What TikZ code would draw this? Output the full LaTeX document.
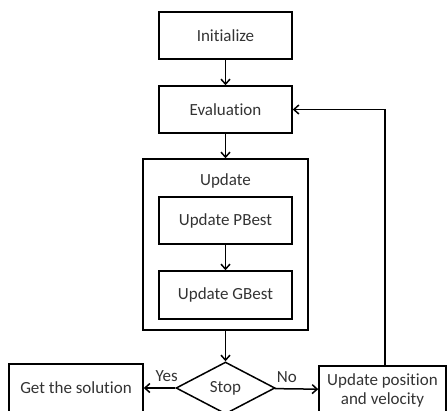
\documentclass[tikz,border=0pt]{standalone}
\usepackage{fontspec}
\setmainfont{Carlito}[Ligatures={NoCommon}]
\usepackage{tikz}
\usetikzlibrary{arrows.meta,shapes.geometric}

\begin{document}
\begin{tikzpicture}[x=1pt, y=-1pt, line width=1.5pt,
  every node/.style={font=\fontsize{17}{20}\selectfont, text=black!80},
  procbox/.style={draw, rectangle, minimum width=133pt, minimum height=47pt, inner sep=0pt, align=center},
  decbox/.style={draw, diamond, shape aspect=1.9, minimum width=99pt, minimum height=52pt, inner sep=0pt},
  flow/.style={-{Straight Barb[length=5pt,width=9pt]}}]
\clip (0,0) rectangle (447,410);
% main column
\node[procbox] (init) at (225.5,35.5) {Initialize};
\node[procbox] (eval) at (225.5,109.5) {Evaluation};
\node[procbox, minimum width=165pt, minimum height=171pt] (upd) at (225.5,244.5) {};
\node (updlbl) at (225.5,181) {Update};
\node[procbox] (pbest) at (225.5,220.5) {Update PBest};
\node[procbox, minimum height=48pt] (gbest) at (225.5,295) {Update GBest};
\node[decbox] (stop) at (225.5,388) {Stop};
% bottom row
\node[procbox, minimum width=134pt, minimum height=48pt] (sol) at (76,388) {Get the solution};
\node[procbox, minimum width=127pt, minimum height=48pt] (pos) at (382.5,390) {Update position\\[-1pt]and velocity};
% connectors
\draw[flow] (init) -- (eval);
\draw[flow] (eval) -- (upd);
\draw[flow] (pbest) -- (gbest);
\draw[flow] (upd) -- (stop);
\draw[flow] (stop) -- node[above=2pt, pos=0.27] {Yes} (sol);
\draw[flow] (stop) -- node[above=2pt, pos=0.28] {No} (pos);
\draw[flow] ([xshift=2.5pt]pos.north) |- (eval.east);
\end{tikzpicture}
\end{document}
